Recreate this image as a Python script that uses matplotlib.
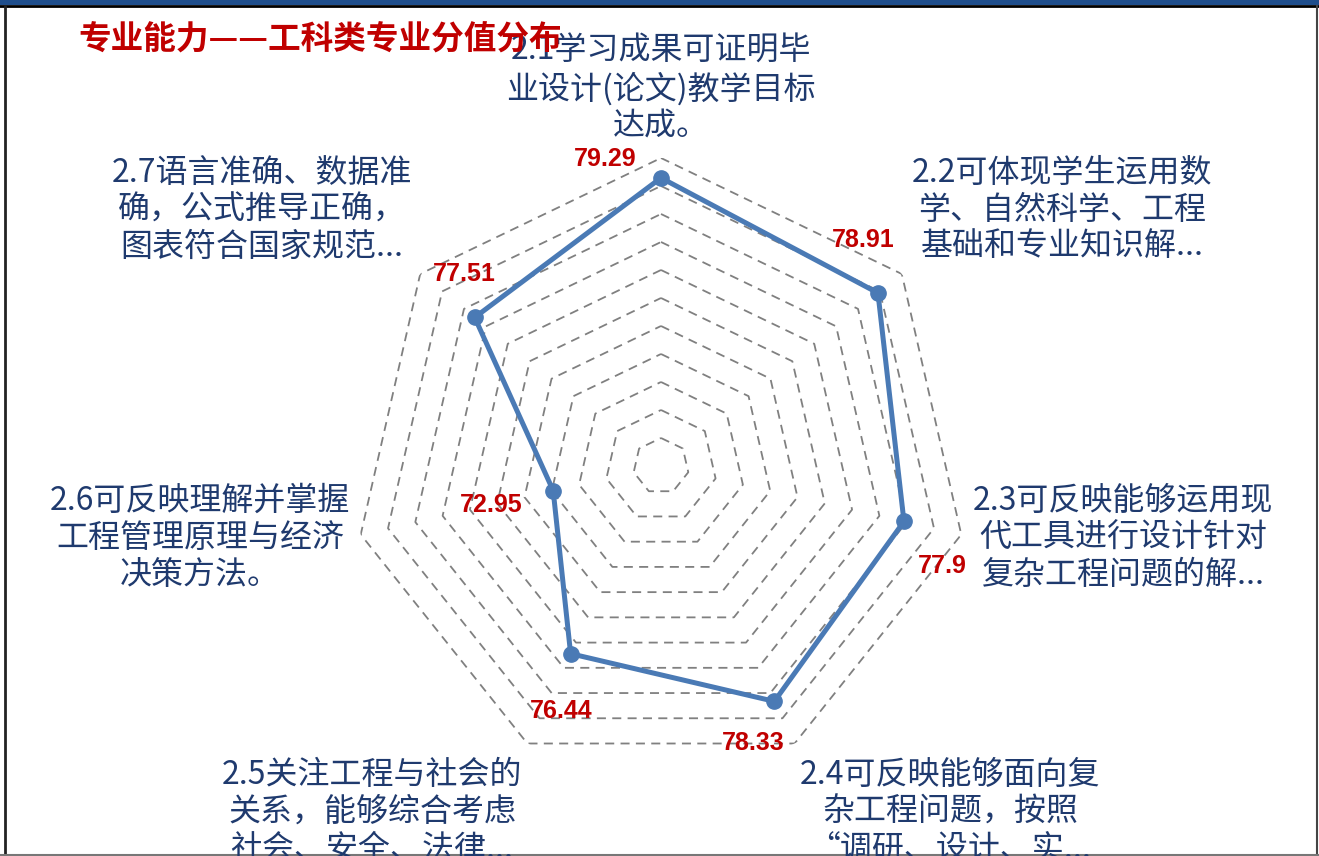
"""专业能力——工科类专业分值分布 (radar chart)."""
import numpy as np
import matplotlib
matplotlib.use("Agg")
import matplotlib.pyplot as plt
from matplotlib.patches import Rectangle
from matplotlib.lines import Line2D

plt.rcParams["font.family"] = ["Noto Sans CJK SC", "DejaVu Sans"]

categories = [
    "2.1学习成果可证明毕\n业设计(论文)教学目标\n达成。",
    "2.2可体现学生运用数\n学、自然科学、工程\n基础和专业知识解...",
    "2.3可反映能够运用现\n代工具进行设计针对\n复杂工程问题的解...",
    "2.4可反映能够面向复\n杂工程问题，按照\n“调研、设计、实...",
    "2.5关注工程与社会的\n关系，能够综合考虑\n社会、安全、法律...",
    "2.6可反映理解并掌握\n工程管理原理与经济\n决策方法。",
    "2.7语言准确、数据准\n确，公式推导正确，\n图表符合国家规范...",
]
values = [79.29, 78.91, 77.9, 78.33, 76.44, 72.95, 77.51]
value_labels = ["79.29", "78.91", "77.9", "78.33", "76.44", "72.95", "77.51"]
r_min, r_max = 69, 80
rings = list(range(70, 81))

W, H = 1319, 856
fig = plt.figure(figsize=(W / 100, H / 100), dpi=100)

# frame like the slide it was cut from
fig.add_artist(Rectangle((0, 1 - 5 / H), 1, 5 / H, transform=fig.transFigure,
                         color="#1F4E8C", lw=0))
fig.add_artist(Line2D([0, 1], [1 - 6 / H, 1 - 6 / H], transform=fig.transFigure,
                      color="black", lw=2))
fig.add_artist(Line2D([5 / W, 5 / W], [0, 1 - 6 / H], transform=fig.transFigure,
                      color="#222222", lw=2))
fig.add_artist(Line2D([1 - 2 / W, 1 - 2 / W], [0, 1 - 6 / H], transform=fig.transFigure,
                      color="#444444", lw=1.5))
fig.add_artist(Line2D([0, 1], [1 / H, 1 / H], transform=fig.transFigure,
                      color="#777777", lw=1.5))

cx, cy, R = 661, 466, 308
ax = fig.add_axes([(cx - R) / W, (H - cy - R) / H, 2 * R / W, 2 * R / H],
                  projection="polar")
ax.set_theta_offset(np.pi / 2)
ax.set_theta_direction(-1)
ax.set_ylim(r_min, r_max)
ax.grid(False)
ax.set_xticks([])
ax.set_yticks([])
ax.spines["polar"].set_visible(False)
ax.patch.set_alpha(0)

n = len(values)
theta = np.arange(n) * 2 * np.pi / n
closed = np.append(theta, theta[0])

for r in rings:
    ax.plot(closed, [r] * (n + 1), color="#808080", lw=1.3, ls=(0, (5, 3.5)), zorder=1)

ax.plot(closed, values + values[:1], color="#4A7AB5", lw=3.6, zorder=3,
        marker="o", markersize=11, markevery=list(range(n)))

# value labels, offset from each point (pixels)
offsets = [(-56, 19), (-15, 53), (38, -45), (-21, -42), (-9, -57), (-62, -14), (-10, 43)]
for t, v, lab, off in zip(theta, values, value_labels, offsets):
    ax.annotate(lab, xy=(t, v), xytext=off, textcoords="offset pixels",
                ha="center", va="center", color="#C00000", fontsize=18,
                fontweight="bold", family=["Liberation Sans", "DejaVu Sans"], zorder=4)

# category labels (figure pixel positions)
label_pos = [(661, 89), (1062, 210), (1123, 538), (950, 812),
             (372, 812), (200, 538), (262, 210)]
for txt, (px, py) in zip(categories, label_pos):
    fig.text(px / W, 1 - py / H, txt, ha="center", va="center", color="#1F3A6E",
             fontsize=23, linespacing=1.2)

fig.text(78 / W, 1 - 40 / H, "专业能力——工科类专业分值分布", ha="left", va="center",
         color="#C00000", fontsize=23.5, fontweight="bold")

fig.savefig("out.png", dpi=100)
